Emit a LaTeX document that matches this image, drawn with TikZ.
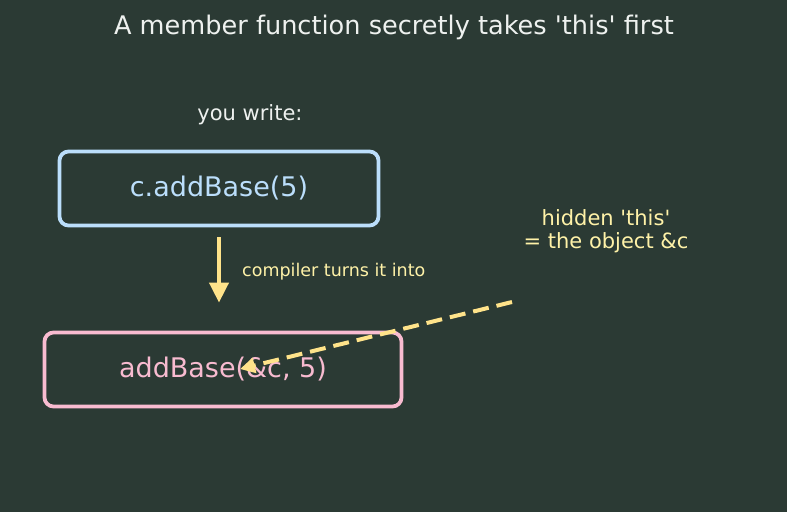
\documentclass[tikz,border=0pt]{standalone}
\usepackage{fontspec}
\setmainfont{DejaVu Sans}
\usepackage{xcolor}
\usepackage{tikz}
\usetikzlibrary{arrows.meta,positioning,calc}
\definecolor{Board}{HTML}{2B3A34}
\definecolor{Chalk}{HTML}{EEF1EF}
\definecolor{Ice}{HTML}{BBDEFB}
\definecolor{Rose}{HTML}{F8BBD0}
\definecolor{Butter}{HTML}{FFE38A}
\definecolor{Cream}{HTML}{FFF2A8}
\newcommand{\fsz}[2]{\fontsize{#1}{#2}\selectfont}
\newcommand{\sq}{\textquotesingle}

\begin{document}
\begin{tikzpicture}[
  x=1pt,y=-1pt,
  every node/.style={align=center,inner sep=0pt},
  callbox/.style={rounded corners=9pt,line width=3.8pt,minimum height=74pt},
  arr/.style={-{Triangle[length=20pt,width=19pt]},line width=4pt,Butter},
  hidarr/.style={-{Triangle[length=15pt,width=15pt]},line width=4pt,Butter,dash pattern=on 16pt off 8pt}
]
\fill[Board] (0,0) rectangle (787,512);
\useasboundingbox (0,0) rectangle (787,512);
\node[Chalk,font=\fsz{25.6}{31}] (title) at (394,27) {A member function secretly takes \sq this\sq{} first};
\node[Chalk,font=\fsz{21}{25}] (youwrite) at (250,115) {you write:};
\node[callbox,draw=Ice,text=Ice,minimum width=319pt,font=\fsz{27}{32}] (call) at (219,188.5) {c.addBase(5)};
\node[callbox,draw=Rose,text=Rose,minimum width=357pt,font=\fsz{27}{32}] (real) at (223,369.5) {addBase(\&c, 5)};
\node[Cream,font=\fsz{17.5}{21},anchor=west] (turns) at (242,272) {compiler turns it into};
\node[Cream,font=\fsz{21}{23}] (hidden) at (606,231) {hidden \sq this\sq\\= the object \&c};
\coordinate (thisstart) at (512,302);
\coordinate (thisend) at (240,369);
\draw[arr,shorten <=10pt,shorten >=28pt] (call.south) -- (call.south |- real.north);
\draw[hidarr] (thisstart) -- (thisend);
\end{tikzpicture}
\end{document}
